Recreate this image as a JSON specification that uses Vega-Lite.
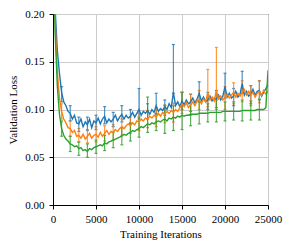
{
  "$schema": "https://vega.github.io/schema/vega-lite/v6.json",
  "width": 215,
  "height": 191,
  "autosize": "none",
  "padding": {"left": 53, "top": 14, "right": 24, "bottom": 45},
  "background": "white",
  "config": {
    "font": "Liberation Serif",
    "view": {"stroke": "black", "strokeWidth": 1},
    "axis": {
      "grid": true,
      "gridColor": "#cccccc",
      "gridWidth": 1,
      "domainColor": "black",
      "tickColor": "black",
      "tickSize": 4,
      "labelFont": "Liberation Serif",
      "labelFontSize": 11,
      "labelColor": "black",
      "titleFont": "Liberation Serif",
      "titleFontSize": 11,
      "titleFontWeight": "normal",
      "titleColor": "black"
    }
  },
  "datasets": {
    "lines": [
      {"x": 0, "A": 0.34, "B": 0.32, "C": 0.30},
      {"x": 250, "A": 0.205, "B": 0.19, "C": 0.18},
      {"x": 500, "A": 0.162, "B": 0.14, "C": 0.125},
      {"x": 750, "A": 0.138, "B": 0.112, "C": 0.095},
      {"x": 1000, "A": 0.118, "B": 0.098, "C": 0.08},
      {"x": 1250, "A": 0.108, "B": 0.09, "C": 0.073},
      {"x": 1500, "A": 0.104, "B": 0.086, "C": 0.069},
      {"x": 1750, "A": 0.098, "B": 0.081, "C": 0.067},
      {"x": 2000, "A": 0.096, "B": 0.08, "C": 0.064},
      {"x": 2250, "A": 0.09, "B": 0.076, "C": 0.063},
      {"x": 2500, "A": 0.094, "B": 0.078, "C": 0.061},
      {"x": 2750, "A": 0.086, "B": 0.072, "C": 0.062},
      {"x": 3000, "A": 0.085, "B": 0.073, "C": 0.059},
      {"x": 3250, "A": 0.09, "B": 0.07, "C": 0.06},
      {"x": 3500, "A": 0.082, "B": 0.074, "C": 0.057},
      {"x": 3750, "A": 0.087, "B": 0.069, "C": 0.058},
      {"x": 4000, "A": 0.084, "B": 0.072, "C": 0.056},
      {"x": 4250, "A": 0.09, "B": 0.075, "C": 0.059},
      {"x": 4500, "A": 0.081, "B": 0.07, "C": 0.058},
      {"x": 4750, "A": 0.088, "B": 0.073, "C": 0.06},
      {"x": 5000, "A": 0.086, "B": 0.074, "C": 0.061},
      {"x": 5250, "A": 0.091, "B": 0.071, "C": 0.062},
      {"x": 5500, "A": 0.085, "B": 0.076, "C": 0.063},
      {"x": 5750, "A": 0.09, "B": 0.072, "C": 0.062},
      {"x": 6000, "A": 0.093, "B": 0.075, "C": 0.065},
      {"x": 6250, "A": 0.086, "B": 0.078, "C": 0.064},
      {"x": 6500, "A": 0.09, "B": 0.074, "C": 0.066},
      {"x": 6750, "A": 0.087, "B": 0.077, "C": 0.067},
      {"x": 7000, "A": 0.09, "B": 0.076, "C": 0.068},
      {"x": 7250, "A": 0.094, "B": 0.079, "C": 0.069},
      {"x": 7500, "A": 0.088, "B": 0.077, "C": 0.07},
      {"x": 7750, "A": 0.092, "B": 0.08, "C": 0.071},
      {"x": 8000, "A": 0.095, "B": 0.082, "C": 0.072},
      {"x": 8250, "A": 0.09, "B": 0.08, "C": 0.074},
      {"x": 8500, "A": 0.094, "B": 0.083, "C": 0.073},
      {"x": 8750, "A": 0.091, "B": 0.085, "C": 0.075},
      {"x": 9000, "A": 0.093, "B": 0.083, "C": 0.076},
      {"x": 9250, "A": 0.097, "B": 0.086, "C": 0.078},
      {"x": 9500, "A": 0.092, "B": 0.084, "C": 0.077},
      {"x": 9750, "A": 0.096, "B": 0.088, "C": 0.079},
      {"x": 10000, "A": 0.1, "B": 0.087, "C": 0.08},
      {"x": 10250, "A": 0.094, "B": 0.09, "C": 0.082},
      {"x": 10500, "A": 0.098, "B": 0.088, "C": 0.081},
      {"x": 10750, "A": 0.096, "B": 0.091, "C": 0.083},
      {"x": 11000, "A": 0.099, "B": 0.09, "C": 0.085},
      {"x": 11250, "A": 0.095, "B": 0.093, "C": 0.084},
      {"x": 11500, "A": 0.1, "B": 0.091, "C": 0.086},
      {"x": 11750, "A": 0.097, "B": 0.094, "C": 0.085},
      {"x": 12000, "A": 0.104, "B": 0.092, "C": 0.087},
      {"x": 12250, "A": 0.098, "B": 0.096, "C": 0.088},
      {"x": 12500, "A": 0.101, "B": 0.093, "C": 0.087},
      {"x": 12750, "A": 0.099, "B": 0.097, "C": 0.089},
      {"x": 13000, "A": 0.103, "B": 0.095, "C": 0.09},
      {"x": 13250, "A": 0.1, "B": 0.098, "C": 0.088},
      {"x": 13500, "A": 0.106, "B": 0.096, "C": 0.091},
      {"x": 13750, "A": 0.102, "B": 0.099, "C": 0.09},
      {"x": 14000, "A": 0.118, "B": 0.097, "C": 0.092},
      {"x": 14250, "A": 0.104, "B": 0.1, "C": 0.091},
      {"x": 14500, "A": 0.108, "B": 0.098, "C": 0.093},
      {"x": 14750, "A": 0.103, "B": 0.102, "C": 0.092},
      {"x": 15000, "A": 0.109, "B": 0.106, "C": 0.094},
      {"x": 15250, "A": 0.105, "B": 0.103, "C": 0.093},
      {"x": 15500, "A": 0.11, "B": 0.107, "C": 0.094},
      {"x": 15750, "A": 0.106, "B": 0.102, "C": 0.094},
      {"x": 16000, "A": 0.108, "B": 0.105, "C": 0.095},
      {"x": 16250, "A": 0.112, "B": 0.108, "C": 0.095},
      {"x": 16500, "A": 0.107, "B": 0.104, "C": 0.095},
      {"x": 16750, "A": 0.111, "B": 0.109, "C": 0.095},
      {"x": 17000, "A": 0.117, "B": 0.11, "C": 0.096},
      {"x": 17250, "A": 0.109, "B": 0.106, "C": 0.096},
      {"x": 17500, "A": 0.113, "B": 0.111, "C": 0.096},
      {"x": 17750, "A": 0.108, "B": 0.108, "C": 0.096},
      {"x": 18000, "A": 0.11, "B": 0.118, "C": 0.096},
      {"x": 18250, "A": 0.114, "B": 0.11, "C": 0.097},
      {"x": 18500, "A": 0.109, "B": 0.113, "C": 0.097},
      {"x": 18750, "A": 0.112, "B": 0.109, "C": 0.097},
      {"x": 19000, "A": 0.111, "B": 0.12, "C": 0.097},
      {"x": 19250, "A": 0.115, "B": 0.111, "C": 0.097},
      {"x": 19500, "A": 0.11, "B": 0.114, "C": 0.097},
      {"x": 19750, "A": 0.114, "B": 0.11, "C": 0.098},
      {"x": 20000, "A": 0.124, "B": 0.112, "C": 0.098},
      {"x": 20250, "A": 0.113, "B": 0.116, "C": 0.098},
      {"x": 20500, "A": 0.117, "B": 0.112, "C": 0.098},
      {"x": 20750, "A": 0.112, "B": 0.115, "C": 0.098},
      {"x": 21000, "A": 0.114, "B": 0.118, "C": 0.098},
      {"x": 21250, "A": 0.119, "B": 0.113, "C": 0.098},
      {"x": 21500, "A": 0.113, "B": 0.117, "C": 0.098},
      {"x": 21750, "A": 0.116, "B": 0.114, "C": 0.098},
      {"x": 22000, "A": 0.127, "B": 0.118, "C": 0.099},
      {"x": 22250, "A": 0.115, "B": 0.121, "C": 0.099},
      {"x": 22500, "A": 0.119, "B": 0.115, "C": 0.099},
      {"x": 22750, "A": 0.114, "B": 0.119, "C": 0.099},
      {"x": 23000, "A": 0.116, "B": 0.115, "C": 0.099},
      {"x": 23250, "A": 0.121, "B": 0.118, "C": 0.099},
      {"x": 23500, "A": 0.115, "B": 0.113, "C": 0.099},
      {"x": 23750, "A": 0.119, "B": 0.117, "C": 0.1},
      {"x": 24000, "A": 0.12, "B": 0.119, "C": 0.1},
      {"x": 24250, "A": 0.114, "B": 0.115, "C": 0.1},
      {"x": 24500, "A": 0.118, "B": 0.12, "C": 0.1},
      {"x": 24750, "A": 0.122, "B": 0.116, "C": 0.102},
      {"x": 25000, "A": 0.126, "B": 0.119, "C": 0.141}
    ],
    "bars": [
      {"x": 1000, "s": "A", "lo": 0.108, "hi": 0.124},
      {"x": 2000, "s": "A", "lo": 0.088, "hi": 0.104},
      {"x": 3000, "s": "A", "lo": 0.077, "hi": 0.092},
      {"x": 4000, "s": "A", "lo": 0.078, "hi": 0.092},
      {"x": 5000, "s": "A", "lo": 0.079, "hi": 0.094},
      {"x": 6000, "s": "A", "lo": 0.085, "hi": 0.103},
      {"x": 7000, "s": "A", "lo": 0.082, "hi": 0.097},
      {"x": 8000, "s": "A", "lo": 0.087, "hi": 0.104},
      {"x": 9000, "s": "A", "lo": 0.085, "hi": 0.1},
      {"x": 10000, "s": "A", "lo": 0.09, "hi": 0.122},
      {"x": 11000, "s": "A", "lo": 0.09, "hi": 0.106},
      {"x": 12000, "s": "A", "lo": 0.095, "hi": 0.117},
      {"x": 13000, "s": "A", "lo": 0.094, "hi": 0.11},
      {"x": 14000, "s": "A", "lo": 0.117, "hi": 0.168},
      {"x": 15000, "s": "A", "lo": 0.1, "hi": 0.118},
      {"x": 16000, "s": "A", "lo": 0.098, "hi": 0.116},
      {"x": 17000, "s": "A", "lo": 0.108, "hi": 0.129},
      {"x": 18000, "s": "A", "lo": 0.1, "hi": 0.118},
      {"x": 19000, "s": "A", "lo": 0.102, "hi": 0.12},
      {"x": 20000, "s": "A", "lo": 0.112, "hi": 0.138},
      {"x": 21000, "s": "A", "lo": 0.104, "hi": 0.122},
      {"x": 22000, "s": "A", "lo": 0.117, "hi": 0.14},
      {"x": 23000, "s": "A", "lo": 0.106, "hi": 0.125},
      {"x": 24000, "s": "A", "lo": 0.11, "hi": 0.13},
      {"x": 1000, "s": "B", "lo": 0.09, "hi": 0.106},
      {"x": 2000, "s": "B", "lo": 0.072, "hi": 0.088},
      {"x": 3000, "s": "B", "lo": 0.066, "hi": 0.08},
      {"x": 4000, "s": "B", "lo": 0.065, "hi": 0.079},
      {"x": 5000, "s": "B", "lo": 0.066, "hi": 0.082},
      {"x": 6000, "s": "B", "lo": 0.067, "hi": 0.083},
      {"x": 7000, "s": "B", "lo": 0.068, "hi": 0.084},
      {"x": 8000, "s": "B", "lo": 0.073, "hi": 0.09},
      {"x": 9000, "s": "B", "lo": 0.075, "hi": 0.092},
      {"x": 10000, "s": "B", "lo": 0.078, "hi": 0.096},
      {"x": 11000, "s": "B", "lo": 0.081, "hi": 0.099},
      {"x": 12000, "s": "B", "lo": 0.082, "hi": 0.102},
      {"x": 13000, "s": "B", "lo": 0.086, "hi": 0.105},
      {"x": 14000, "s": "B", "lo": 0.087, "hi": 0.107},
      {"x": 15000, "s": "B", "lo": 0.096, "hi": 0.118},
      {"x": 16000, "s": "B", "lo": 0.094, "hi": 0.116},
      {"x": 17000, "s": "B", "lo": 0.1, "hi": 0.12},
      {"x": 18000, "s": "B", "lo": 0.103, "hi": 0.142},
      {"x": 19000, "s": "B", "lo": 0.1, "hi": 0.165},
      {"x": 20000, "s": "B", "lo": 0.1, "hi": 0.124},
      {"x": 21000, "s": "B", "lo": 0.106, "hi": 0.128},
      {"x": 22000, "s": "B", "lo": 0.108, "hi": 0.13},
      {"x": 23000, "s": "B", "lo": 0.104, "hi": 0.125},
      {"x": 24000, "s": "B", "lo": 0.107, "hi": 0.13},
      {"x": 1000, "s": "C", "lo": 0.072, "hi": 0.088},
      {"x": 2000, "s": "C", "lo": 0.056, "hi": 0.072},
      {"x": 3000, "s": "C", "lo": 0.052, "hi": 0.066},
      {"x": 4000, "s": "C", "lo": 0.05, "hi": 0.064},
      {"x": 5000, "s": "C", "lo": 0.054, "hi": 0.068},
      {"x": 6000, "s": "C", "lo": 0.057, "hi": 0.073},
      {"x": 7000, "s": "C", "lo": 0.06, "hi": 0.076},
      {"x": 8000, "s": "C", "lo": 0.063, "hi": 0.081},
      {"x": 9000, "s": "C", "lo": 0.067, "hi": 0.086},
      {"x": 10000, "s": "C", "lo": 0.071, "hi": 0.092},
      {"x": 11000, "s": "C", "lo": 0.076, "hi": 0.113},
      {"x": 12000, "s": "C", "lo": 0.078, "hi": 0.096},
      {"x": 13000, "s": "C", "lo": 0.075, "hi": 0.104},
      {"x": 14000, "s": "C", "lo": 0.078, "hi": 0.104},
      {"x": 15000, "s": "C", "lo": 0.079, "hi": 0.118},
      {"x": 16000, "s": "C", "lo": 0.083, "hi": 0.106},
      {"x": 17000, "s": "C", "lo": 0.085, "hi": 0.108},
      {"x": 18000, "s": "C", "lo": 0.087, "hi": 0.106},
      {"x": 19000, "s": "C", "lo": 0.087, "hi": 0.11},
      {"x": 20000, "s": "C", "lo": 0.088, "hi": 0.108},
      {"x": 21000, "s": "C", "lo": 0.089, "hi": 0.108},
      {"x": 22000, "s": "C", "lo": 0.088, "hi": 0.11},
      {"x": 23000, "s": "C", "lo": 0.089, "hi": 0.109},
      {"x": 24000, "s": "C", "lo": 0.089, "hi": 0.111}
    ]
  },
  "encoding": {
    "x": {
      "field": "x",
      "type": "quantitative",
      "scale": {"domain": [0, 25000], "nice": false},
      "axis": {"title": "Training Iterations", "values": [0, 5000, 10000, 15000, 20000, 25000], "format": "d", "labelFlush": false, "labelPadding": 4, "titlePadding": 4}
    },
    "color": {
      "field": "s",
      "type": "nominal",
      "scale": {"domain": ["A", "B", "C"], "range": ["#1f77b4", "#ff7f0e", "#2ca02c"]},
      "legend": null
    }
  },
  "layer": [
    {
      "data": {"name": "bars"},
      "mark": {"type": "errorbar", "ticks": true, "size": 3, "thickness": 1.2, "opacity": 0.8},
      "encoding": {
        "y": {
          "field": "lo",
          "type": "quantitative",
          "scale": {"domain": [0, 0.2], "nice": false},
          "axis": {"title": "Validation Loss", "values": [0, 0.05, 0.1, 0.15, 0.2], "format": ".2f", "labelPadding": 5, "titlePadding": 6}
        },
        "y2": {"field": "hi"}
      }
    },
    {
      "data": {"name": "lines"},
      "transform": [{"fold": ["A", "B", "C"], "as": ["s", "v"]}],
      "mark": {"type": "line", "clip": true, "strokeWidth": 1.4},
      "encoding": {
        "y": {"field": "v", "type": "quantitative"}
      }
    }
  ]
}
